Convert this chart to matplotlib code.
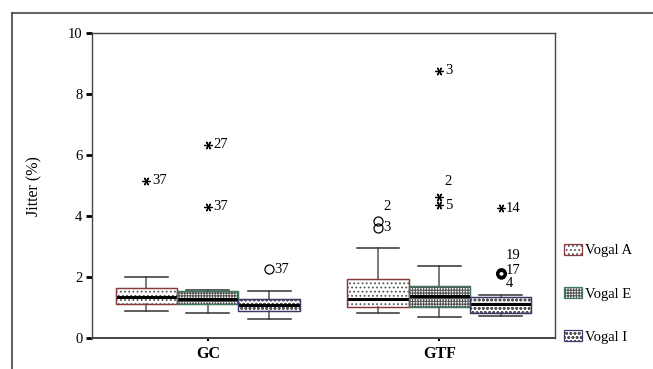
import numpy as np
import matplotlib
matplotlib.use('Agg')
import matplotlib.pyplot as plt
import matplotlib.patches as mpatches
from matplotlib.lines import Line2D

plt.rcParams['font.family'] = ['Liberation Serif', 'DejaVu Serif']
plt.rcParams['hatch.linewidth'] = 0.8

# dados
grupos = ['GC', 'GTF']
vogais = ['Vogal A', 'Vogal E', 'Vogal I']

# [grupo][vogal]
whislo = [[0.90, 0.83, 0.62], [0.82, 0.69, 0.72]]
q1 = [[1.10, 1.10, 0.87], [1.01, 1.01, 0.83]]
med = [[1.34, 1.29, 1.08], [1.27, 1.38, 1.13]]
q3 = [[1.63, 1.54, 1.28], [1.95, 1.70, 1.35]]
whishi = [[2.00, 1.58, 1.53], [2.95, 2.36, 1.40]]

# extremos (*) e outliers (o)
extremos = [[[5.16], [6.34, 4.30], []], [[], [8.77, 4.63, 4.36], [4.25]]]
extremos_rot = [[['37'], ['27', '37'], []], [[], ['3', '', '5'], ['14']]]
outliers = [[[], [], [2.25]], [[3.85, 3.62], [], [2.14, 2.12, 2.10]]]

# rótulos soltos (texto, grupo, vogal, valor)
rotulos_extra = [('37', 0, 2, 2.25), ('2', 1, 0, 4.32), ('3', 1, 0, 3.63),
                 ('2', 1, 1, 5.14), ('19', 1, 2, 2.71), ('17', 1, 2, 2.22),
                 ('4', 1, 2, 1.80)]

hachuras = ['....', '++++++', 'oooo']
cores_borda = ['#8a3a3a', '#3d7a5a', '#3a3a6a']

fig = plt.figure(figsize=(6.53, 3.69), dpi=100)
ax = fig.add_axes([0.141, 0.084, 0.709, 0.826])

larg = 0.265
desloc = [-larg, 0, larg]

for g in range(len(grupos)):
    for v in range(len(vogais)):
        pos = g + 1 + desloc[v]
        st = [dict(med=med[g][v], q1=q1[g][v], q3=q3[g][v],
                   whislo=whislo[g][v], whishi=whishi[g][v], fliers=[])]
        r = ax.bxp(st, positions=[pos], widths=larg, patch_artist=True,
                   showfliers=False, capwidths=[0.185],
                   boxprops=dict(facecolor='white', edgecolor='#555555',
                                 hatch=hachuras[v], linewidth=0.8),
                   medianprops=dict(color='black', linewidth=2.2),
                   whiskerprops=dict(color='#555555', linewidth=1.1),
                   capprops=dict(color='#333333', linewidth=1.1))
        caixa = r['boxes'][0]
        ax.add_patch(mpatches.PathPatch(caixa.get_path(), facecolor='none',
                                        edgecolor=cores_borda[v], linewidth=1.0,
                                        zorder=3))
        for val, rot in zip(extremos[g][v], extremos_rot[g][v]):
            ax.plot(pos, val, marker=(6, 2, 90), color='black', ms=6,
                    mew=0.9, linestyle='none')
            if rot:
                ax.annotate(rot, (pos, val), xytext=(4, 0),
                            textcoords='offset points', va='center',
                            ha='left', fontsize=10.5)
        grosso = len(outliers[g][v]) > 2
        for val in outliers[g][v]:
            ax.plot(pos, val, marker='o', mfc='none', mec='black',
                    ms=5.5 if grosso else 6.5, mew=2.0 if grosso else 0.9,
                    linestyle='none')

for txt, g, v, val in rotulos_extra:
    pos = g + 1 + desloc[v]
    ax.annotate(txt, (pos, val), xytext=(4, 0), textcoords='offset points',
                va='center', ha='left', fontsize=10.5)

ax.set_xlim(0.5, 2.5)
ax.set_ylim(0, 10)
ax.set_yticks(np.arange(0, 11, 2))
ax.set_xticks([1, 2])
ax.set_xticklabels(grupos, fontweight='bold', fontsize=11.5)
ax.tick_params(axis='y', direction='out', length=4, width=2, pad=3,
               labelsize=10.5)
ax.tick_params(axis='x', direction='out', length=2, width=1.5, pad=4)
for s in ax.spines.values():
    s.set_color('#444444')
    s.set_linewidth(1.0)
ax.spines['bottom'].set_linewidth(1.4)
ax.set_ylabel('Jitter (%)', fontsize=11.5, labelpad=18)

handles = [(mpatches.Patch(facecolor='white', edgecolor='#555555',
                           hatch=hachuras[v], linewidth=0),
            mpatches.Patch(facecolor='none', edgecolor=cores_borda[v],
                           linewidth=0.9))
           for v in range(len(vogais))]
fig.legend(handles, vogais, loc='upper left', bbox_to_anchor=(0.855, 0.355),
           frameon=False, fontsize=10.5, handlelength=1.2, handleheight=0.75,
           handletextpad=0.2, labelspacing=2.05, borderaxespad=0)

# moldura externa
fig.add_artist(Line2D([0.018, 1.0], [0.965, 0.965], color='#666666', lw=1.5,
                      transform=fig.transFigure))
fig.add_artist(Line2D([0.018, 0.018], [0.0, 0.965], color='#444444', lw=1.2,
                      transform=fig.transFigure))

fig.savefig('out.png', dpi=100)
